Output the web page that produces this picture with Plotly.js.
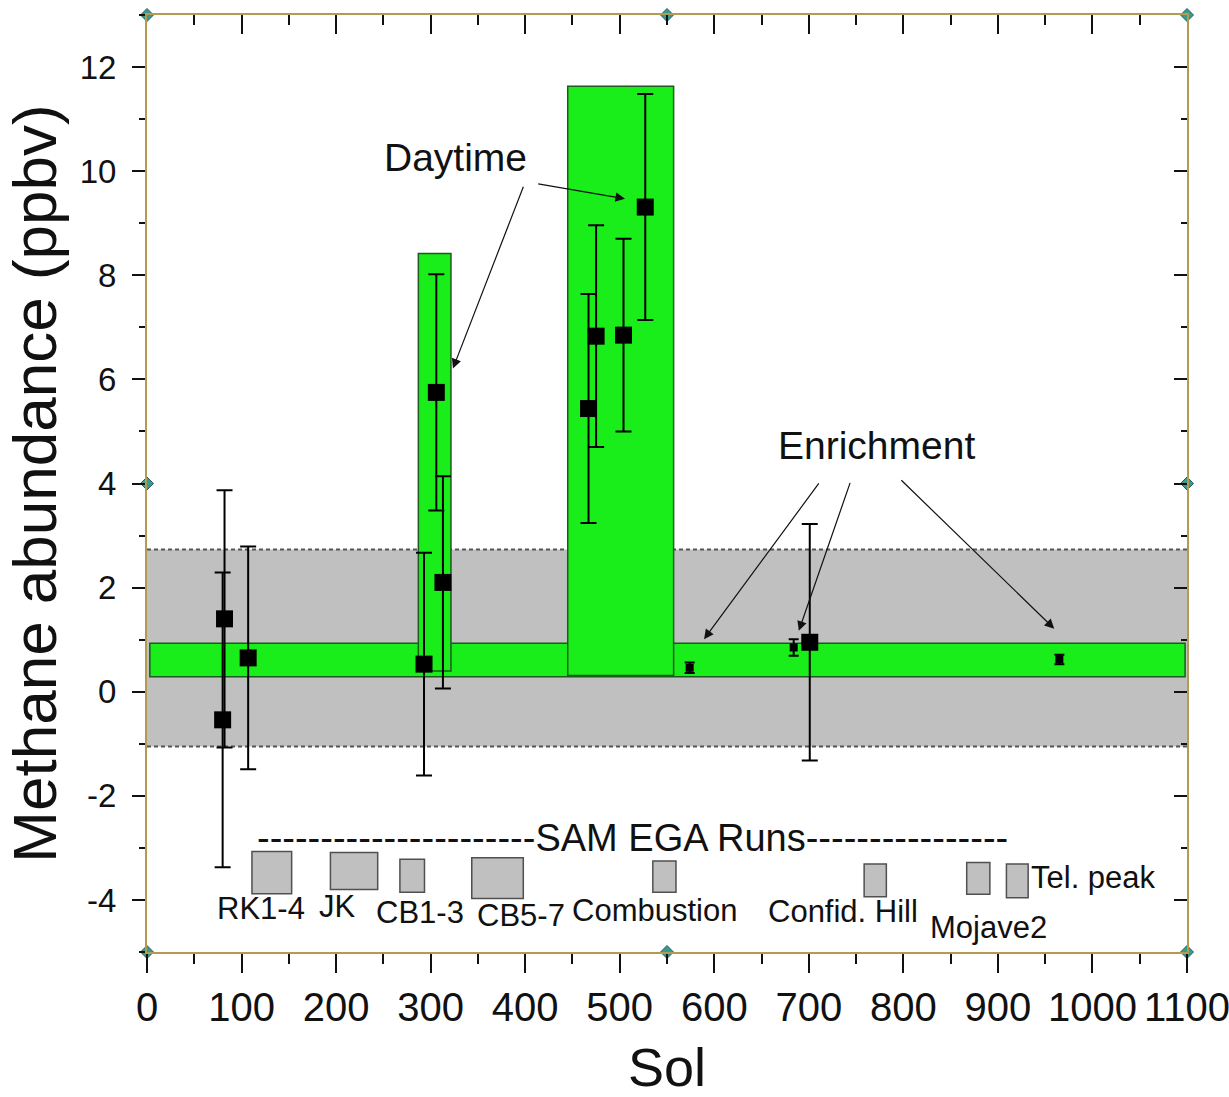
<!DOCTYPE html>
<html>
<head>
<meta charset="utf-8">
<script src="https://cdn.plot.ly/plotly-3.0.1.min.js"></script>
<style>
  html, body { margin: 0; padding: 0; background: #ffffff; }
  #chart { width: 1229px; height: 1097px; }
</style>
</head>
<body>
<div id="chart"></div>
<script>
// ---------------- data ----------------
// Methane measurements with large symbols
var solMain = [82, 80, 107, 293, 306, 313, 467, 475, 504, 527, 701];
var ch4Main = [1.40, -0.54, 0.65, 0.53, 5.75, 2.10, 5.44, 6.83, 6.85, 9.31, 0.95];
var errMain = [2.47, 2.83, 2.14, 2.14, 2.27, 2.04, 2.20, 2.13, 1.85, 2.17, 2.27];

// Enrichment measurements with small symbols
var solEnrich = [574, 684, 965];
var ch4Enrich = [0.46, 0.85, 0.62];
var errEnrich = [0.10, 0.16, 0.09];

// Background level band (grey) and enrichment band (green)
var greyBandLow = -1.05, greyBandHigh = 2.73;
var greenBandSol = [3, 1098];
var greenBandLow = 0.29, greenBandHigh = 0.93;

// Daytime episodes (green windows)
var dayStart = [287, 445];
var dayEnd = [321.5, 557];
var dayLow = [0.40, 0.31];
var dayHigh = [8.42, 11.63];

// SAM EGA runs
var runNames = ['RK1-4', 'JK', 'CB1-3', 'CB5-7', 'Combustion', 'Confid. Hill', 'Mojave2', 'Tel. peak'];
var runStart = [111, 194, 267.5, 343.5, 535, 758.5, 867, 909];
var runEnd = [153, 244, 293.5, 398, 559.5, 782, 891.5, 932];
var runLow = [-3.88, -3.80, -3.85, -3.97, -3.85, -3.94, -3.89, -3.96];
var runHigh = [-3.07, -3.09, -3.22, -3.19, -3.25, -3.31, -3.28, -3.31];
var runLabelSol = [120.6, 201, 288.6, 396, 537, 736, 889.6, 1000.6];
var runLabelY = [-4.17, -4.13, -4.24, -4.30, -4.21, -4.23, -4.52, -3.57];

// Axis ranges / ticks
var solRange = [0, 1100];
var ch4Range = [-5, 13];
var yTickVals = [-4, -2, 0, 2, 4, 6, 8, 10, 12];
var yTickText = ['-4', '-2', '0', '2', '4', '6', '8', '10', '12'];

// Annotation arrows: [tipSol, tipY, tailSol, tailY]
var daytimeArrows = [[323.6, 6.21, 398.7, 9.73], [505.6, 9.47, 412.2, 9.76]];
var enrichArrows = [[589.2, 1.01, 711.7, 4.03], [689.4, 1.17, 744.2, 4.04], [959.6, 1.21, 796.3, 4.09]];

// ---------------- styling ----------------
var FONT = 'Liberation Sans, Arial, Helvetica, sans-serif';
var GOLD = '#b39b4f';
var GREEN = '#1aee1a';
var GREEN_EDGE = '#1d5a1d';
var GREY = '#c0c0c0';

var shapes = [];
// grey band
shapes.push({type: 'rect', xref: 'x', yref: 'y', layer: 'below',
  x0: solRange[0], x1: solRange[1], y0: greyBandLow, y1: greyBandHigh,
  fillcolor: GREY, line: {width: 0}});
[greyBandLow, greyBandHigh].forEach(function (v) {
  shapes.push({type: 'line', xref: 'x', yref: 'y', layer: 'below',
    x0: solRange[0], x1: solRange[1], y0: v, y1: v,
    line: {color: '#555555', width: 2, dash: '4px,3px'}});
});
// green band
shapes.push({type: 'rect', xref: 'x', yref: 'y', layer: 'below',
  x0: greenBandSol[0], x1: greenBandSol[1], y0: greenBandLow, y1: greenBandHigh,
  fillcolor: GREEN, line: {color: GREEN_EDGE, width: 1.5}});
// daytime windows
for (var i = 0; i < dayStart.length; i++) {
  shapes.push({type: 'rect', xref: 'x', yref: 'y', layer: 'below',
    x0: dayStart[i], x1: dayEnd[i], y0: dayLow[i], y1: dayHigh[i],
    fillcolor: GREEN, line: {color: GREEN_EDGE, width: 1.5}});
}
// SAM EGA run boxes
for (var j = 0; j < runNames.length; j++) {
  shapes.push({type: 'rect', xref: 'x', yref: 'y', layer: 'below',
    x0: runStart[j], x1: runEnd[j], y0: runLow[j], y1: runHigh[j],
    fillcolor: GREY, line: {color: '#505050', width: 1.5}});
}

var annotations = [];
annotations.push({x: 326.8, y: 10.27, xref: 'x', yref: 'y', text: 'Daytime', showarrow: false,
  font: {family: FONT, size: 39, color: '#111'}, xanchor: 'center', yanchor: 'middle'});
annotations.push({x: 772, y: 4.73, xref: 'x', yref: 'y', text: 'Enrichment', showarrow: false,
  font: {family: FONT, size: 39, color: '#111'}, xanchor: 'center', yanchor: 'middle'});
daytimeArrows.concat(enrichArrows).forEach(function (a) {
  annotations.push({x: a[0], y: a[1], ax: a[2], ay: a[3], xref: 'x', yref: 'y', axref: 'x', ayref: 'y',
    text: '', showarrow: true, arrowhead: 2, arrowsize: 1.6, arrowwidth: 1.2, arrowcolor: '#111', standoff: 0});
});
annotations.push({x: 114, y: -2.81, xref: 'x', yref: 'y', xanchor: 'left', yanchor: 'middle', showarrow: false,
  text: '-'.repeat(22) + 'SAM EGA Runs' + '-'.repeat(16),
  font: {family: FONT, size: 38, color: '#111'}});
for (var k = 0; k < runNames.length; k++) {
  annotations.push({x: runLabelSol[k], y: runLabelY[k], xref: 'x', yref: 'y', xanchor: 'center', yanchor: 'middle',
    showarrow: false, text: runNames[k], font: {family: FONT, size: 31, color: '#111'}});
}

var traces = [
  {type: 'scatter', mode: 'markers', x: solMain, y: ch4Main, name: 'CH4',
   marker: {symbol: 'square', size: 17, color: '#000'},
   error_y: {type: 'data', array: errMain, visible: true, color: '#000', thickness: 2, width: 8},
   showlegend: false, hoverinfo: 'x+y'},
  {type: 'scatter', mode: 'markers', x: solEnrich, y: ch4Enrich, name: 'Enrichment',
   marker: {symbol: 'square', size: 8, color: '#000'},
   error_y: {type: 'data', array: errEnrich, visible: true, color: '#000', thickness: 2, width: 5},
   showlegend: false, hoverinfo: 'x+y'},
  // selection handles at the frame (decorative)
  {type: 'scatter', mode: 'markers', cliponaxis: false, hoverinfo: 'skip', showlegend: false,
   x: [solRange[0], (solRange[0] + solRange[1]) / 2, solRange[1], solRange[0], solRange[1], solRange[0], (solRange[0] + solRange[1]) / 2, solRange[1]],
   y: [ch4Range[1], ch4Range[1], ch4Range[1], (ch4Range[0] + ch4Range[1]) / 2, (ch4Range[0] + ch4Range[1]) / 2, ch4Range[0], ch4Range[0], ch4Range[0]],
   marker: {symbol: 'diamond', size: 10, color: '#3a9a8c', line: {color: '#2a5a6a', width: 1}}},
  // helper trace for the mirrored tick axes
  {type: 'scatter', x: [null], y: [null], xaxis: 'x2', yaxis: 'y2', hoverinfo: 'skip', showlegend: false}
];

var layout = {
  width: 1229, height: 1097,
  margin: {l: 147, r: 42, t: 15, b: 145},
  paper_bgcolor: '#ffffff', plot_bgcolor: '#ffffff',
  font: {family: FONT, color: '#111'},
  showlegend: false,
  xaxis: {
    range: solRange, tick0: 0, dtick: 100, ticks: 'outside', ticklen: 19, tickwidth: 2, tickcolor: '#111',
    minor: {dtick: 50, ticks: 'outside', ticklen: 10, tickwidth: 2, tickcolor: '#111'},
    showline: true, linecolor: GOLD, linewidth: 2, mirror: true,
    showgrid: false, zeroline: false, ticklabeloverflow: 'allow',
    tickfont: {family: FONT, size: 40, color: '#111'},
    title: {text: 'Sol', font: {family: FONT, size: 54, color: '#111'}, standoff: 25}
  },
  yaxis: {
    range: ch4Range, tickmode: 'array', tickvals: yTickVals, ticktext: yTickText,
    ticks: 'outside', ticklen: 13, tickwidth: 2, tickcolor: '#111',
    minor: {tickmode: 'linear', tick0: 0, dtick: 1, ticks: 'outside', ticklen: 6, tickwidth: 2, tickcolor: '#111'},
    showline: true, linecolor: GOLD, linewidth: 2, mirror: true,
    showgrid: false, zeroline: false, ticklabelstandoff: 9,
    tickfont: {family: FONT, size: 33, color: '#111'},
    title: {text: 'Methane abundance (ppbv)', font: {family: FONT, size: 62, color: '#111'}, standoff: 8}
  },
  xaxis2: {
    overlaying: 'x', side: 'top', range: solRange, tick0: 0, dtick: 100,
    ticks: 'inside', ticklen: 19, tickwidth: 2, tickcolor: '#111',
    minor: {dtick: 50, ticks: 'inside', ticklen: 10, tickwidth: 2, tickcolor: '#111'},
    showticklabels: false, showline: false, showgrid: false, zeroline: false
  },
  yaxis2: {
    overlaying: 'y', side: 'right', range: ch4Range, tick0: 0, dtick: 2,
    ticks: 'inside', ticklen: 13, tickwidth: 2, tickcolor: '#111',
    minor: {dtick: 1, ticks: 'inside', ticklen: 6, tickwidth: 2, tickcolor: '#111'},
    showticklabels: false, showline: false, showgrid: false, zeroline: false
  },
  shapes: shapes,
  annotations: annotations
};

Plotly.newPlot('chart', traces, layout, {displayModeBar: false, responsive: false});
</script>
</body>
</html>
